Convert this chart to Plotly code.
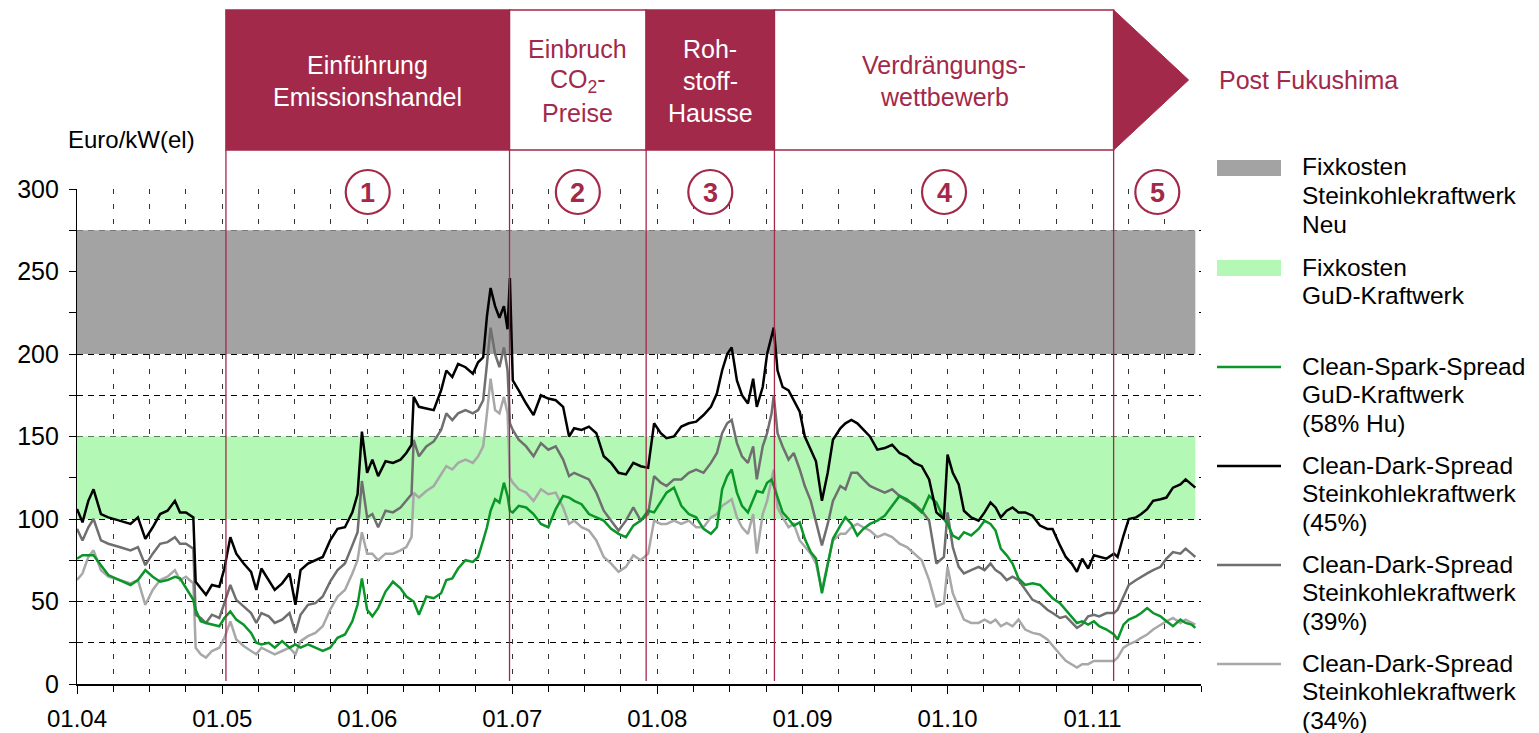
import pandas as pd
import plotly.graph_objects as go

# Zeitpunkte als Dezimaljahre
JAHR = [
    2004.000, 2004.038, 2004.078, 2004.114, 2004.165, 2004.216, 2004.293, 2004.369, 2004.420, 2004.471,
    2004.522, 2004.573, 2004.624, 2004.675, 2004.710, 2004.751, 2004.802, 2004.818, 2004.853, 2004.889,
    2004.930, 2004.981, 2005.016, 2005.057, 2005.098, 2005.149, 2005.200, 2005.236, 2005.271, 2005.322,
    2005.363, 2005.414, 2005.465, 2005.506, 2005.541, 2005.592, 2005.643, 2005.694, 2005.745, 2005.796,
    2005.847, 2005.898, 2005.934, 2005.964, 2006.000, 2006.036, 2006.076, 2006.127, 2006.178, 2006.230,
    2006.270, 2006.306, 2006.321, 2006.357, 2006.408, 2006.459, 2006.510, 2006.546, 2006.587, 2006.627,
    2006.678, 2006.729, 2006.765, 2006.800, 2006.826, 2006.851, 2006.882, 2006.912, 2006.943, 2006.968,
    2006.984, 2007.004, 2007.045, 2007.096, 2007.147, 2007.198, 2007.249, 2007.300, 2007.351, 2007.392,
    2007.427, 2007.478, 2007.529, 2007.580, 2007.631, 2007.682, 2007.733, 2007.784, 2007.835, 2007.886,
    2007.937, 2007.978, 2008.024, 2008.064, 2008.115, 2008.166, 2008.217, 2008.268, 2008.319, 2008.370,
    2008.411, 2008.447, 2008.482, 2008.513, 2008.549, 2008.584, 2008.625, 2008.661, 2008.686, 2008.727,
    2008.757, 2008.788, 2008.803, 2008.829, 2008.864, 2008.905, 2008.941, 2008.982, 2009.017, 2009.058,
    2009.094, 2009.135, 2009.175, 2009.211, 2009.262, 2009.297, 2009.338, 2009.379, 2009.420, 2009.466,
    2009.517, 2009.568, 2009.619, 2009.670, 2009.721, 2009.772, 2009.823, 2009.874, 2009.924, 2009.976,
    2010.001, 2010.037, 2010.078, 2010.114, 2010.164, 2010.215, 2010.256, 2010.297, 2010.332, 2010.368,
    2010.409, 2010.449, 2010.490, 2010.536, 2010.587, 2010.638, 2010.689, 2010.725, 2010.776, 2010.816,
    2010.857, 2010.893, 2010.929, 2010.970, 2011.010, 2011.046, 2011.097, 2011.148, 2011.173, 2011.214,
    2011.250, 2011.301, 2011.336, 2011.377, 2011.418, 2011.469, 2011.510, 2011.555, 2011.606, 2011.642,
    2011.683, 2011.709,
]

# Clean-Dark-Spread Steinkohlekraftwerk (45%)
CDS_45 = [
    106, 98, 111, 118, 103, 101, 99, 97, 101, 88,
    95, 103, 105, 111, 104, 104, 101, 62, 58, 54,
    60, 59, 70, 89, 79, 73, 68, 57, 70, 63,
    57, 61, 67, 48, 69, 73, 75, 77, 87, 94,
    95, 104, 115, 153, 128, 136, 126, 135, 134, 136,
    140, 145, 174, 168, 167, 166, 178, 190, 186, 194,
    192, 188, 195, 198, 223, 240, 229, 222, 229, 215,
    246, 184, 178, 170, 163, 175, 173, 172, 168, 150,
    155, 154, 156, 152, 138, 134, 128, 127, 134, 132,
    131, 158, 152, 149, 150, 156, 158, 159, 163, 168,
    176, 190, 200, 204, 184, 175, 170, 185, 168, 180,
    200, 212, 216, 190, 180, 178, 172, 165, 150, 142,
    135, 111, 128, 148, 155, 158, 160, 158, 154, 150,
    142, 143, 145, 140, 138, 134, 132, 124, 104, 100,
    139, 128, 121, 105, 101, 99, 104, 110, 107, 101,
    105, 107, 104, 104, 102, 96, 94, 94, 84, 77,
    73, 68, 76, 70, 78, 77, 76, 79, 77, 90,
    100, 101, 103, 106, 111, 112, 113, 119, 121, 124,
    121, 119,
]

# Clean-Dark-Spread Steinkohlekraftwerk (39%)
CDS_39 = [
    94, 87, 95, 100, 87, 85, 83, 81, 83, 72,
    79, 85, 86, 89, 85, 85, 82, 42, 40, 37,
    42, 40, 49, 60, 51, 47, 43, 37, 43, 41,
    37, 39, 43, 31, 42, 48, 49, 53, 62, 69,
    73, 84, 92, 123, 101, 103, 95, 105, 104, 107,
    111, 115, 148, 138, 144, 147, 154, 164, 160, 164,
    166, 164, 166, 172, 194, 216, 200, 192, 204, 190,
    158, 154, 148, 144, 138, 146, 142, 144, 136, 126,
    128, 126, 124, 116, 105, 99, 93, 99, 107, 99,
    103, 126, 122, 120, 124, 124, 128, 130, 128, 134,
    140, 152, 158, 160, 146, 138, 134, 144, 124, 144,
    152, 164, 175, 152, 144, 136, 140, 130, 120, 111,
    99, 84, 97, 111, 120, 118, 128, 128, 124, 120,
    118, 116, 118, 114, 111, 109, 105, 99, 73, 77,
    104, 83, 71, 67, 69, 71, 69, 73, 69, 67,
    63, 65, 63, 57, 51, 49, 45, 43, 40, 41,
    37, 34, 36, 41, 42, 41, 43, 43, 45, 53,
    60, 63, 65, 67, 69, 71, 76, 80, 79, 82,
    79, 77,
]

# Clean-Dark-Spread Steinkohlekraftwerk (34%)
CDS_34 = [
    63, 67, 77, 81, 69, 65, 63, 61, 63, 48,
    57, 63, 65, 69, 63, 65, 61, 22, 18, 16,
    20, 22, 28, 38, 27, 23, 20, 18, 22, 20,
    18, 20, 22, 18, 26, 29, 31, 35, 45, 53,
    57, 67, 75, 92, 79, 79, 75, 79, 79, 81,
    83, 89, 116, 113, 117, 120, 127, 132, 130, 134,
    136, 134, 138, 144, 164, 185, 166, 164, 174, 164,
    125, 122, 118, 116, 111, 118, 115, 116, 107, 97,
    99, 95, 93, 87, 77, 73, 68, 71, 78, 75,
    79, 99, 97, 97, 99, 97, 99, 95, 95, 101,
    103, 108, 110, 112, 101, 95, 91, 103, 79, 103,
    111, 123, 130, 107, 101, 95, 97, 87, 83, 79,
    73, 57, 73, 87, 91, 91, 95, 97, 95, 93,
    89, 91, 89, 85, 83, 79, 75, 63, 47, 49,
    71, 55, 47, 39, 37, 37, 39, 37, 39, 35,
    37, 35, 39, 33, 31, 30, 27, 23, 18, 14,
    12, 10, 12, 12, 14, 14, 14, 14, 16, 22,
    24, 26, 28, 30, 33, 36, 38, 40, 37, 39,
    37, 36,
]

# Clean-Spark-Spread GuD-Kraftwerk (58% Hu)
CSS_58 = [
    76, 78, 78, 78, 72, 66, 63, 60, 63, 69,
    65, 62, 63, 65, 64, 58, 51, 45, 38, 37,
    36, 35, 40, 44, 39, 36, 31, 25, 24, 25,
    22, 26, 22, 24, 22, 24, 22, 20, 22, 28,
    30, 38, 48, 64, 45, 41, 46, 56, 62, 58,
    53, 51, 50, 42, 53, 52, 55, 63, 64, 70,
    75, 74, 77, 87, 95, 105, 112, 110, 122, 114,
    105, 104, 108, 107, 103, 97, 95, 106, 114, 113,
    111, 109, 103, 101, 99, 94, 91, 89, 96, 99,
    105, 104, 110, 116, 119, 108, 103, 101, 94, 91,
    95, 118, 126, 130, 116, 108, 104, 112, 117, 116,
    122, 124, 120, 114, 104, 100, 96, 98, 88, 80,
    76, 55, 72, 88, 96, 101, 97, 90, 94, 97,
    99, 102, 108, 114, 112, 108, 104, 114, 110, 100,
    97, 90, 88, 92, 90, 94, 99, 97, 93, 82,
    78, 73, 64, 60, 61, 60, 55, 52, 49, 45,
    41, 37, 38, 36, 38, 35, 33, 30, 27, 36,
    39, 41, 43, 46, 43, 41, 38, 35, 39, 37,
    36, 34,
]

# Fixkostenbänder (Euro/kW(el))
FIX_STEINKOHLE = [200, 275]
FIX_GUD = [100, 150]

# Phasen
PHASEN_GRENZEN = ["2005-01-10", "2006-12-25", "2007-12-04", "2008-10-22", "2011-02-23"]
PHASEN_TITEL = [
    ["Einführung", "Emissionshandel"],
    ["Einbruch", "CO<sub>2</sub>-", "Preise"],
    ["Roh-", "stoff-", "Hausse"],
    ["Verdrängungs-", "wettbewerb"],
]
PHASEN_NR = ["1", "2", "3", "4", "5"]
AUSBLICK = "Post Fukushima"

X_START, X_END = "2004-01-01", "2011-10-01"
X_TICK_JAHRE = list(range(2004, 2012))
X_TICK_LABELS = ["01.04", "01.05", "01.06", "01.07", "01.08", "01.09", "01.10", "01.11"]
Y_TICKS = [0, 50, 100, 150, 200, 250, 300]

FONT = "Liberation Sans, Arial, Helvetica, sans-serif"
MAROON = "#a2294a"
GRAY_BAND = "#a3a3a3"
GREEN_BAND = "#b3f8b5"
GREEN_LINE = "#0a9628"
DARK_GRAY = "#6f6f6f"
LIGHT_GRAY = "#a8a8a8"
GRID = "#333333"

# Figurgeometrie (Pixel)
W, H = 1539, 733
PL, PR, PT, PB = 77, 1201, 189, 684


def fx(px):
    return (px - PL) / (PR - PL)


def fy(py):
    return (PB - py) / (PB - PT)


def to_date(y):
    return pd.Timestamp("2004-01-01") + pd.Timedelta(days=(y - 2004) * 365.25)


dates = [to_date(y) for y in JAHR]
data_end = dates[-1]
start = pd.Timestamp(X_START)

fig = go.Figure()

# Fixkostenbänder
for (lo, hi), col in [(FIX_STEINKOHLE, GRAY_BAND), (FIX_GUD, GREEN_BAND)]:
    fig.add_trace(go.Scatter(
        x=[start, data_end, data_end, start, start],
        y=[lo, lo, hi, hi, lo],
        fill="toself", fillcolor=col, mode="lines",
        line=dict(width=0, color=col), hoverinfo="skip", showlegend=False,
    ))

# Spreads
for vals, col, w in [(CDS_34, LIGHT_GRAY, 2.5), (CDS_39, DARK_GRAY, 2.5),
                     (CSS_58, GREEN_LINE, 2.5), (CDS_45, "black", 2.5)]:
    fig.add_trace(go.Scatter(x=dates, y=vals, mode="lines",
                             line=dict(color=col, width=w), showlegend=False))

shapes = []
annotations = []

bounds = [pd.Timestamp(d) for d in PHASEN_GRENZEN]
box_top, box_bot = fy(10), fy(150)

# Phasenkästen
for i, titel in enumerate(PHASEN_TITEL):
    filled = i % 2 == 0
    shapes.append(dict(type="rect", xref="x", yref="paper",
                       x0=bounds[i], x1=bounds[i + 1], y0=box_bot, y1=box_top,
                       fillcolor=MAROON if filled else "white",
                       line=dict(color=MAROON, width=1.5), layer="above"))
    mid = bounds[i] + (bounds[i + 1] - bounds[i]) / 2
    n = len(titel)
    for k, t in enumerate(titel):
        annotations.append(dict(
            x=mid, xref="x", y=fy(81 + (k - (n - 1) / 2) * 32), yref="paper",
            text=t, showarrow=False, xanchor="center", yanchor="middle",
            font=dict(family=FONT, size=25, color="white" if filled else MAROON)))

# Pfeil für die letzte Phase
shapes.append(dict(type="path", xref="x", yref="paper",
                   xsizemode="pixel", ysizemode="pixel",
                   xanchor=bounds[-1], yanchor=fy(80),
                   path="M0,70 L75,0 L0,-70 Z",
                   fillcolor=MAROON, line=dict(color=MAROON, width=1), layer="above"))
annotations.append(dict(x=fx(1217), xref="paper", y=fy(80), yref="paper",
                        text=AUSBLICK, showarrow=False, xanchor="left", yanchor="middle",
                        font=dict(family=FONT, size=25, color=MAROON)))

# Phasentrennlinien
for b in bounds:
    shapes.append(dict(type="line", xref="x", yref="paper", x0=b, x1=b,
                       y0=fy(681), y1=box_bot,
                       line=dict(color=MAROON, width=1.3), layer="above"))

# Nummerierte Kreise
col_edges = bounds + [pd.Timestamp(X_END)]
for i, nr in enumerate(PHASEN_NR):
    mid = col_edges[i] + (col_edges[i + 1] - col_edges[i]) / 2
    shapes.append(dict(type="circle", xref="x", yref="paper",
                       xsizemode="pixel", ysizemode="pixel",
                       xanchor=mid, yanchor=fy(192),
                       x0=-22, x1=22, y0=-22, y1=22,
                       fillcolor="white", line=dict(color=MAROON, width=2.2),
                       layer="above"))
    annotations.append(dict(x=mid, xref="x", y=fy(193), yref="paper",
                            text=f"<b>{nr}</b>", showarrow=False,
                            xanchor="center", yanchor="middle",
                            font=dict(family=FONT, size=27, color=MAROON)))

# Einheit
annotations.append(dict(x=fx(66), xref="paper", y=fy(139), yref="paper",
                        text="Euro/kW(el)", showarrow=False, xanchor="left",
                        yanchor="middle", font=dict(family=FONT, size=24, color="black")))

# Legende
legend_items = [
    ("band", GRAY_BAND, ["Fixkosten", "Steinkohlekraftwerk", "Neu"], 168),
    ("band", GREEN_BAND, ["Fixkosten", "GuD-Kraftwerk"], 268),
    ("line", GREEN_LINE, ["Clean-Spark-Spread", "GuD-Kraftwerk", "(58% Hu)"], 367),
    ("line", "black", ["Clean-Dark-Spread", "Steinkohlekraftwerk", "(45%)"], 466),
    ("line", DARK_GRAY, ["Clean-Dark-Spread", "Steinkohlekraftwerk", "(39%)"], 565),
    ("line", LIGHT_GRAY, ["Clean-Dark-Spread", "Steinkohlekraftwerk", "(34%)"], 664),
]
for kind, col, lines, ypx in legend_items:
    if kind == "band":
        shapes.append(dict(type="rect", xref="paper", yref="paper",
                           x0=fx(1217), x1=fx(1281), y0=fy(ypx + 8), y1=fy(ypx - 8),
                           fillcolor=col, line=dict(width=0)))
    else:
        shapes.append(dict(type="line", xref="paper", yref="paper",
                           x0=fx(1217), x1=fx(1281), y0=fy(ypx), y1=fy(ypx),
                           line=dict(color=col, width=2.5)))
    for k, t in enumerate(lines):
        annotations.append(dict(x=fx(1300), xref="paper", y=fy(ypx - 1 + 28.5 * k), yref="paper",
                                text=t, showarrow=False, xanchor="left", yanchor="middle",
                                font=dict(family=FONT, size=24.5, color="black")))

x_font = dict(family=FONT, size=24, color="black")
y_font = dict(family=FONT, size=25, color="black")

fig.update_layout(
    width=W, height=H, autosize=False,
    margin=dict(l=PL, r=W - PR, t=PT, b=H - PB, pad=0, autoexpand=False),
    plot_bgcolor="white", paper_bgcolor="white",
    showlegend=False,
    shapes=shapes, annotations=annotations,
    xaxis=dict(
        type="date", range=[X_START, X_END], automargin=False,
        tickmode="array", tickvals=[f"{y}-01-01" for y in X_TICK_JAHRE], ticktext=X_TICK_LABELS,
        ticks="outside", ticklen=8, tickwidth=1.2, tickcolor="black",
        showline=True, linecolor="black", linewidth=1.5,
        showgrid=True, gridcolor=GRID, gridwidth=1, griddash="5px,10px",
        minor=dict(tickmode="linear", tick0=X_START, dtick="M3", ticks="outside",
                   ticklen=6, tickwidth=1, tickcolor="black",
                   showgrid=True, gridcolor=GRID, gridwidth=1, griddash="5px,10px"),
        zeroline=False, tickfont=x_font, ticklabelstandoff=4, fixedrange=True,
    ),
    yaxis=dict(
        range=[0, 300], tickmode="array", tickvals=Y_TICKS, automargin=False,
        ticks="outside", ticklen=7, tickwidth=1.2, tickcolor="black",
        showline=True, linecolor="black", linewidth=1.2,
        showgrid=True, gridcolor="black", gridwidth=1, griddash="6px,5px",
        minor=dict(tickmode="linear", tick0=0, dtick=25, ticks="outside",
                   ticklen=7, tickwidth=1, tickcolor="black",
                   showgrid=True, gridcolor="black", gridwidth=1, griddash="6px,5px"),
        zeroline=False, tickfont=y_font, ticklabelstandoff=5, fixedrange=True,
    ),
)

fig.write_html("out.html")
